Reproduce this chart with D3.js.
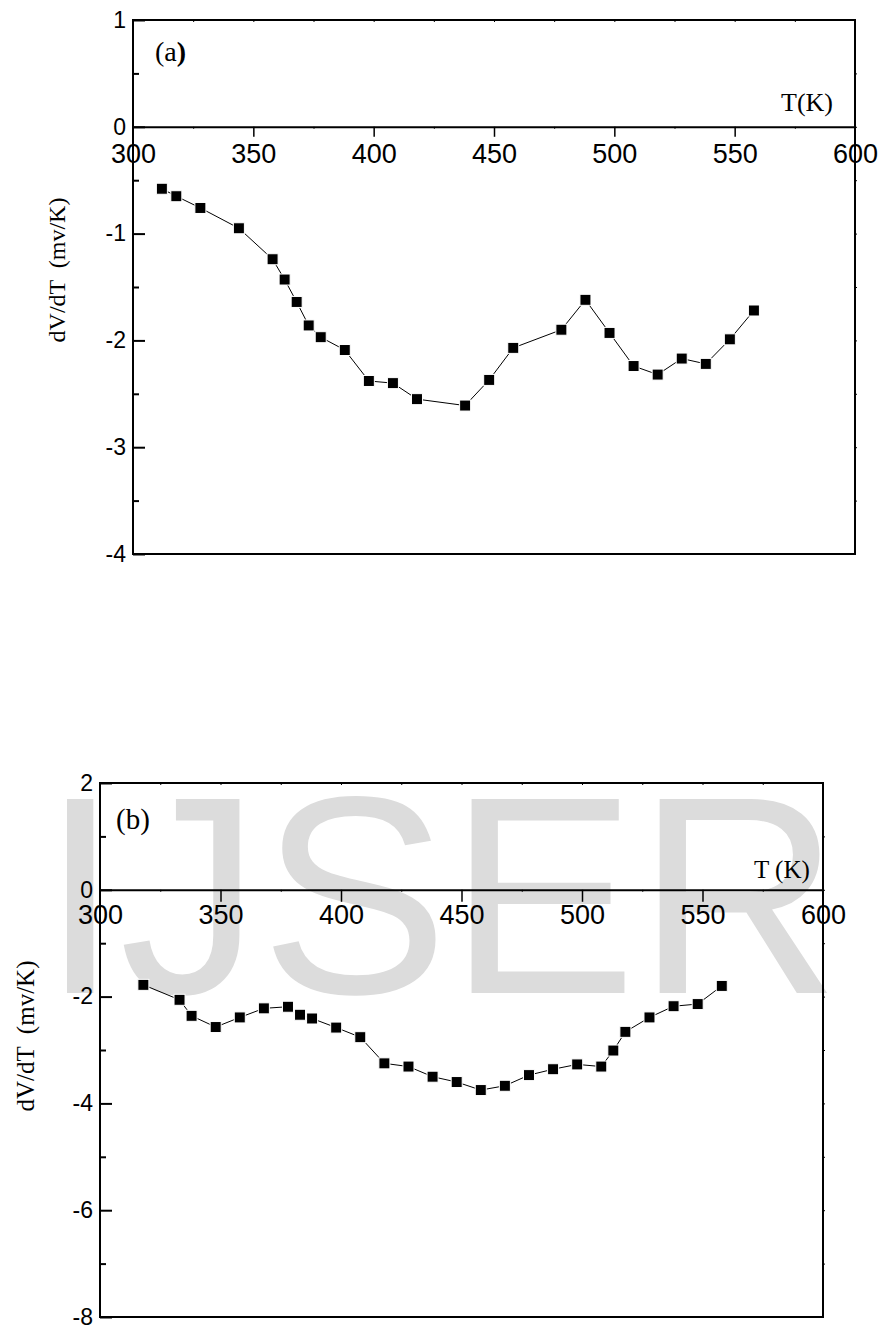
<!DOCTYPE html>
<html>
<head>
<meta charset="utf-8">
<script src="https://cdn.jsdelivr.net/npm/d3@7"></script>
<style>
  body { margin: 0; background: #fff; }
  svg { display: block; }
  .tick text { font-family: "Liberation Sans", Arial, sans-serif; fill: #000; }
  .serif { font-family: "Liberation Serif", "Times New Roman", serif; fill: #000; }
</style>
</head>
<body>
<svg id="chart" width="879" height="1329"></svg>
<script>
"use strict";

// temperature ticks shared by both panels
var xTicks = [300, 350, 400, 450, 500, 550, 600];
var xMinor = [325, 375, 425, 475, 525, 575];

// panel (a)
var tempA = [312, 318, 328, 344, 358, 363, 368, 373, 378, 388, 398, 408, 418,
             438, 448, 458, 478, 488, 498, 508, 518, 528, 538, 548, 558];
var dvdtA = [-0.58, -0.65, -0.76, -0.95, -1.24, -1.43, -1.64, -1.86, -1.97, -2.09, -2.38, -2.40, -2.55,
             -2.61, -2.37, -2.07, -1.90, -1.62, -1.93, -2.24, -2.32, -2.17, -2.22, -1.99, -1.72];
var yTicksA = [1, 0, -1, -2, -3, -4];
var yMinorA = [0.5, -0.5, -1.5, -2.5, -3.5];

// panel (b)
var tempB = [318, 333, 338, 348, 358, 368, 378, 383, 388, 398, 408, 418, 428, 438,
             448, 458, 468, 478, 488, 498, 508, 513, 518, 528, 538, 548, 558];
var dvdtB = [-1.78, -2.06, -2.36, -2.57, -2.39, -2.22, -2.19, -2.34, -2.41, -2.58, -2.76, -3.25, -3.31, -3.50,
             -3.60, -3.75, -3.67, -3.47, -3.36, -3.27, -3.31, -3.01, -2.66, -2.39, -2.18, -2.14, -1.80];
var yTicksB = [2, 0, -2, -4, -6, -8];
var yMinorB = [1, -1, -3, -5, -7];

var svg = d3.select('#chart');

// plain hyphen for negatives, like the original
var fmt = function (d) { return String(d); };

// watermark sits behind everything
svg.append('text')
    .attr('x', 41)
    .attr('y', 993)
    .style('font-family', '"Liberation Sans", Arial, sans-serif')
    .style('font-size', '282px')
    .style('fill', '#dcdcdc')
    .text('IJSER');

function drawPanel(p) {
    var x = d3.scaleLinear().domain([300, 600]).range([p.left, p.right]);
    var y = d3.scaleLinear().domain(p.yDomain).range([p.bottom, p.top]);
    var g = svg.append('g');

    // frame
    var frame = [
        [p.left, p.top, p.right, p.top],
        [p.right, p.top, p.right, p.bottom],
        [p.left, p.bottom, p.right, p.bottom],
        [p.left, p.top, p.left, p.bottom]
    ];
    g.selectAll('line.frame').data(frame).enter().append('line')
        .attr('class', 'frame')
        .attr('x1', function (d) { return d[0]; })
        .attr('y1', function (d) { return d[1]; })
        .attr('x2', function (d) { return d[2]; })
        .attr('y2', function (d) { return d[3]; })
        .attr('stroke', '#000')
        .attr('stroke-width', 2)
        .attr('stroke-linecap', 'square');

    // x axis on the zero line
    var xAxis = g.append('g')
        .attr('transform', 'translate(0,' + y(0) + ')')
        .call(d3.axisBottom(x).tickValues(xTicks).tickSize(p.xTick).tickSizeOuter(0)
            .tickPadding(p.xPad).tickFormat(fmt));
    xAxis.select('.domain').attr('stroke-width', 2);
    xAxis.selectAll('.tick line').attr('stroke-width', 1.5)
        .filter(function (d) { return d === 300 || d === 600; }).remove();
    xAxis.selectAll('.tick text').style('font-size', p.xFont + 'px');

    g.append('g')
        .attr('transform', 'translate(0,' + y(0) + ')')
        .call(d3.axisBottom(x).tickValues(xMinor).tickSize(2).tickFormat(''))
        .select('.domain').remove();
    g.append('g')
        .attr('transform', 'translate(0,' + p.top + ')')
        .call(d3.axisBottom(x).tickValues(xMinor.concat(xTicks.slice(1, 6))).tickSize(2).tickFormat(''))
        .select('.domain').remove();

    // left axis, ticks pointing inward
    var yAxis = g.append('g')
        .attr('transform', 'translate(' + p.left + ',0)')
        .call(d3.axisLeft(y).tickValues(p.yTicks).tickSize(-12).tickSizeOuter(0)
            .tickPadding(7).tickFormat(fmt));
    yAxis.select('.domain').remove();
    yAxis.selectAll('.tick line').attr('stroke-width', 2);
    yAxis.selectAll('.tick text').style('font-size', p.yFont + 'px');

    var yMinor = g.append('g')
        .attr('transform', 'translate(' + p.left + ',0)')
        .call(d3.axisLeft(y).tickValues(p.yMinor).tickSize(-6).tickFormat(''));
    yMinor.select('.domain').remove();
    yMinor.selectAll('.tick line').attr('stroke-width', 2);

    // right axis nubs
    g.append('g')
        .attr('transform', 'translate(' + p.right + ',0)')
        .call(d3.axisRight(y).tickValues(p.yMinor.concat(p.yTicks.slice(1, 5))).tickSize(2).tickFormat(''))
        .select('.domain').remove();

    // data line and markers
    var pts = p.temps.map(function (t, i) { return [t, p.vals[i]]; });
    var line = d3.line()
        .x(function (d) { return x(d[0]); })
        .y(function (d) { return y(d[1]); });
    g.append('path')
        .datum(pts)
        .attr('d', line)
        .attr('fill', 'none')
        .attr('stroke', '#000')
        .attr('stroke-width', 1);
    g.selectAll('rect.pt').data(pts).enter().append('rect')
        .attr('class', 'pt')
        .attr('x', function (d) { return x(d[0]) - p.mark / 2; })
        .attr('y', function (d) { return y(d[1]) - p.mark / 2; })
        .attr('width', p.mark)
        .attr('height', p.mark)
        .attr('fill', '#000')
        .attr('stroke', '#fff')
        .attr('stroke-width', 1);

    // panel letter
    var letter = g.append('text')
        .attr('class', 'serif')
        .attr('x', p.letterX)
        .attr('y', p.letterY)
        .style('font-size', p.letterFont + 'px');
    letter.append('tspan').text('(' + p.letter);
    letter.append('tspan').style('font-weight', p.boldParen ? 'bold' : 'normal').text(')');

    // axis titles
    g.append('text')
        .attr('class', 'serif')
        .attr('x', p.tX)
        .attr('y', p.tY)
        .style('font-size', p.tFont + 'px')
        .text(p.tLabel);

    g.append('text')
        .attr('class', 'serif')
        .attr('transform', 'translate(' + p.yLabX + ',' + p.yLabY + ') rotate(-90)')
        .attr('text-anchor', 'middle')
        .style('font-size', p.yLabFont + 'px')
        .style('white-space', 'pre')
        .text('dV/dT  (mv/K)');
}

drawPanel({
    left: 133, right: 855, top: 20, bottom: 554,
    yDomain: [-4, 1], yTicks: yTicksA, yMinor: yMinorA,
    temps: tempA, vals: dvdtA,
    xTick: 10, xPad: 7, xFont: 27, yFont: 23, mark: 11,
    letter: 'a', boldParen: true, letterX: 155, letterY: 61, letterFont: 28,
    tLabel: 'T(K)', tX: 781, tY: 111, tFont: 26,
    yLabX: 65, yLabY: 270, yLabFont: 24
});

drawPanel({
    left: 100, right: 823, top: 783, bottom: 1317,
    yDomain: [-8, 2], yTicks: yTicksB, yMinor: yMinorB,
    temps: tempB, vals: dvdtB,
    xTick: 12, xPad: 3, xFont: 27, yFont: 23, mark: 11,
    letter: 'b', boldParen: false, letterX: 116, letterY: 829, letterFont: 29,
    tLabel: 'T (K)', tX: 754, tY: 878, tFont: 25,
    yLabX: 34, yLabY: 1036, yLabFont: 25
});
</script>
</body>
</html>
